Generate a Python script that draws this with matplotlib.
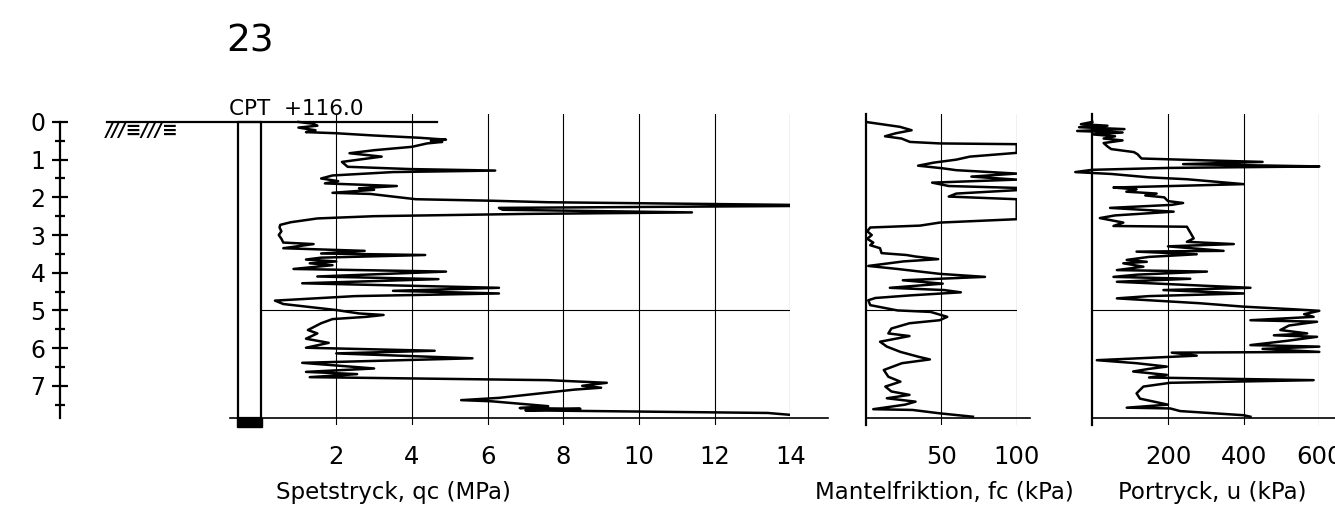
import matplotlib
matplotlib.use("Agg")
import matplotlib.pyplot as plt
import matplotlib.font_manager as fm
from matplotlib.patches import Rectangle

# ---- data (depth in m, value) ----
qc_depth = [0.00, 0.05, 0.10, 0.15, 0.22, 0.27, 0.30, 0.36, 0.42, 0.47, 0.50, 0.53, 0.57,
            0.66, 0.75, 0.83, 0.92, 1.06, 1.19, 1.25, 1.29, 1.33, 1.42, 1.50, 1.57, 1.63,
            1.70, 1.76, 1.80, 1.88, 1.91, 2.05, 2.09, 2.13, 2.20, 2.23, 2.28, 2.33, 2.40,
            2.44, 2.50, 2.56, 2.66, 2.73, 2.80, 2.90, 3.00, 3.10, 3.20, 3.24, 3.35, 3.42,
            3.49, 3.53, 3.60, 3.65, 3.70, 3.75, 3.80, 3.90, 3.97, 4.10, 4.17, 4.28, 4.40,
            4.48, 4.55, 4.62, 4.74, 4.83, 4.99, 5.08, 5.12, 5.17, 5.23, 5.34, 5.52, 5.61,
            5.75, 5.86, 5.99, 6.07, 6.14, 6.27, 6.39, 6.54, 6.63, 6.69, 6.77, 6.85, 6.92,
            7.00, 7.05, 7.10, 7.32, 7.38, 7.41, 7.54, 7.59, 7.61, 7.65, 7.72, 7.77]
qc_val = [1.0, 1.4, 1.5, 1.0, 1.45, 1.2, 2.0, 3.0, 4.2, 4.9, 4.5, 4.8, 4.4,
          4.0, 3.0, 2.35, 3.2, 2.15, 2.3, 3.95, 6.2, 3.5, 1.9, 1.6, 2.05, 1.7,
          3.6, 2.6, 3.0, 1.9, 2.9, 4.1, 6.1, 7.6, 14.0, 14.0, 6.3, 6.4, 11.4,
          7.0, 3.0, 1.5, 0.8, 0.52, 0.5, 0.55, 0.48, 0.55, 0.6, 1.4, 0.6, 2.75,
          1.6, 4.35, 1.6, 1.2, 2.0, 1.3, 1.9, 0.87, 4.9, 1.5, 4.7, 1.1, 6.3,
          3.5, 6.3, 2.5, 0.38, 0.6, 2.0, 2.6, 3.25, 2.8, 1.9, 1.6, 1.25, 1.5,
          1.2, 1.8, 1.2, 4.6, 2.0, 5.6, 1.1, 3.0, 1.2, 2.55, 1.3, 7.6, 9.15,
          8.5, 9.0, 8.3, 6.3, 5.3, 6.1, 7.6, 6.85, 8.45, 7.0, 13.4, 14.0]

fc_depth = [0.00, 0.06, 0.13, 0.22, 0.30, 0.38, 0.44, 0.53, 0.57, 0.59, 0.82, 0.92, 1.00,
            1.08, 1.16, 1.23, 1.28, 1.37, 1.45, 1.53, 1.61, 1.70, 1.75, 1.81, 1.90, 1.98,
            2.05, 2.58, 2.67, 2.75, 2.80, 2.90, 3.00, 3.10, 3.20, 3.27, 3.35, 3.48, 3.53,
            3.57, 3.64, 3.70, 3.82, 3.90, 4.03, 4.11, 4.20, 4.29, 4.40, 4.46, 4.52, 4.60,
            4.67, 4.73, 4.86, 5.00, 5.04, 5.17, 5.26, 5.34, 5.48, 5.61, 5.68, 5.83, 5.96,
            6.10, 6.23, 6.30, 6.40, 6.58, 6.76, 6.89, 7.02, 7.15, 7.24, 7.33, 7.42, 7.50,
            7.62, 7.64, 7.73, 7.82]
fc_val = [0, 10.5, 22.7, 30.4, 20, 12.8, 23.7, 29.3, 49, 100, 100, 69, 60,
          45, 34.7, 51, 60, 100, 70, 100, 44, 55, 100, 100, 60, 55,
          100, 100, 49, 36, 3, 1, 4, 1, 5, 3, 9.5, 10.5, 27,
          33, 48, 25, 1.7, 21, 49, 79, 24.6, 51, 16, 52, 63, 30,
          6.4, 1.7, 3, 21, 43, 54, 49, 29, 17, 15, 29, 9.5, 14,
          23, 35, 42.5, 24, 12, 15, 23, 13, 17, 29, 14, 33, 26,
          5, 31, 49, 71]

u_depth = [0.00, 0.06, 0.10, 0.14, 0.19, 0.24, 0.28, 0.33, 0.38, 0.44, 0.49, 0.56, 0.65,
           0.72, 0.80, 0.86, 0.97, 1.02, 1.06, 1.12, 1.15, 1.18, 1.22, 1.27, 1.33, 1.38,
           1.47, 1.52, 1.65, 1.74, 1.79, 1.85, 1.90, 1.95, 2.00, 2.10, 2.15, 2.20, 2.28,
           2.38, 2.48, 2.55, 2.67, 2.76, 2.78, 2.95, 3.09, 3.18, 3.24, 3.30, 3.42, 3.44,
           3.51, 3.58, 3.66, 3.71, 3.75, 3.84, 3.93, 3.97, 4.05, 4.11, 4.16, 4.24, 4.40,
           4.46, 4.55, 4.62, 4.68, 4.81, 4.90, 4.97, 5.01, 5.10, 5.17, 5.26, 5.30, 5.40,
           5.52, 5.61, 5.66, 5.70, 5.80, 5.92, 5.96, 6.02, 6.10, 6.12, 6.20, 6.32, 6.40,
           6.49, 6.55, 6.62, 6.71, 6.78, 6.85, 6.92, 7.02, 7.20, 7.34, 7.50, 7.58, 7.60,
           7.67, 7.78, 7.82]
u_val = [0, -30, 40, -35, 85, -40, 80, 0, 60, 30, 80, 30, 40,
         50, 110, 120, 130, 300, 450, 240, 420, 600, 200, 0, -45, 50,
         150, 250, 400, 56, 117, 90, 170, 140, 190, 200, 240, 210, 47,
         215, 60, 20, 82, 56, 250, 260, 268, 250, 374, 200, 347, 117,
         276, 150, 91, 144, 82, 135, 65, 303, 120, 56, 259, 65, 418,
         188, 400, 150, 65, 285, 400, 533, 600, 560, 585, 418, 594, 520,
         497, 568, 480, 594, 520, 418, 600, 450, 600, 210, 276, 12, 117,
         197, 150, 108, 197, 150, 585, 206, 135, 117, 126, 200, 91, 206,
         232, 400, 418]

depth_major = [0, 1, 2, 3, 4, 5, 6, 7]
depth_minor = [0.5, 1.5, 2.5, 3.5, 4.5, 5.5, 6.5, 7.5]
qc_ticks = [2, 4, 6, 8, 10, 12, 14]
fc_ticks = [50, 100]
u_ticks = [200, 400, 600]
end_depth = 7.85

names = {f.name for f in fm.fontManager.ttflist}
FONT = "Liberation Sans Narrow" if "Liberation Sans Narrow" in names else "DejaVu Sans"
plt.rcParams["font.family"] = [FONT, "DejaVu Sans"]

W, H = 1335, 508
fig = plt.figure(figsize=(W / 100, H / 100), dpi=100)

# vertical extent shared by all panels (pixels from top)
y_top, y_bot = 114.4, 425.4
ylim = (8.05, -0.2)
b = 1 - y_bot / H
h = (y_bot - y_top) / H


def panel(x0, x1, xmax, ticks):
    ax = fig.add_axes([x0 / W, b, (x1 - x0) / W, h])
    ax.set_xlim(0, xmax)
    ax.set_ylim(*ylim)
    for s in ax.spines.values():
        s.set_visible(False)
    ax.set_yticks([])
    ax.set_xticks(ticks)
    ax.tick_params(axis="x", length=0, pad=14, labelsize=17.5)
    ax.grid(axis="x", color="black", lw=0.8)
    ax.axhline(5, color="black", lw=0.8)
    return ax


ax_qc = panel(260.6, 790.3, 14, qc_ticks)
ax_fc = panel(865.7, 1016.7, 100, fc_ticks)
ax_u = panel(1092.3, 1319.3, 600, u_ticks)

ax_qc.plot(qc_val, qc_depth, color="black", lw=1.8)
ax_fc.plot(fc_val, fc_depth, color="black", lw=1.8)
ax_u.plot(u_val, u_depth, color="black", lw=1.8, clip_on=False)

for ax in (ax_fc, ax_u):
    ax.spines["left"].set_visible(True)
    ax.spines["left"].set_linewidth(1.6)

# ground surface + bottom lines
ax_qc.axhline(0, xmin=-4.06 / 14, xmax=4.66 / 14, color="black", lw=1.6, clip_on=False)
ax_qc.axhline(end_depth, xmin=-0.8 / 14, xmax=15.0 / 14, color="black", lw=1.2, clip_on=False)
ax_fc.axhline(end_depth, xmin=0, xmax=1.09, color="black", lw=1.2, clip_on=False)
ax_u.axhline(end_depth, xmin=0, xmax=1.07, color="black", lw=1.2, clip_on=False)

# borehole column
ax_qc.add_patch(Rectangle((-0.6, 0), 0.6, end_depth, fill=False, ec="black", lw=1.6,
                          clip_on=False))
ax_qc.add_patch(Rectangle((-0.62, end_depth), 0.67, 0.23, fc="black", ec="black",
                          clip_on=False))

# depth scale
ax_d = fig.add_axes([60 / W, b, 0.0004, h])
ax_d.set_ylim(*ylim)
ax_d.set_xticks([])
for k, s in ax_d.spines.items():
    s.set_visible(k == "left")
ax_d.spines["left"].set_bounds(0, end_depth)
ax_d.spines["left"].set_linewidth(1.6)
ax_d.set_yticks(depth_major)
ax_d.set_yticks(depth_minor, minor=True)
ax_d.tick_params(axis="y", which="major", direction="inout", length=11, width=1.6,
                 pad=5, labelsize=17)
ax_d.tick_params(axis="y", which="minor", direction="inout", length=6.5, width=1.6)

# texts
fig.text(250 / W, 1 - 41 / H, "23", ha="center", va="center", fontsize=27)
fig.text(229 / W, 1 - 115 / H, "CPT  +116.0", ha="left", va="baseline", fontsize=15.5)
fig.text(106 / W, 1 - 136 / H, "///≡///≡", ha="left", va="baseline", fontsize=13.5,
         family=["DejaVu Sans"], style="italic", weight="bold")
fig.text(393 / W, 1 - 499 / H, "Spetstryck, qc (MPa)", ha="center", va="baseline",
         fontsize=16.5)
fig.text(944 / W, 1 - 499 / H, "Mantelfriktion, fc (kPa)", ha="center", va="baseline",
         fontsize=16.5)
fig.text(1212 / W, 1 - 499 / H, "Portryck, u (kPa)", ha="center", va="baseline",
         fontsize=16.5)

fig.savefig("out.png", dpi=100)
